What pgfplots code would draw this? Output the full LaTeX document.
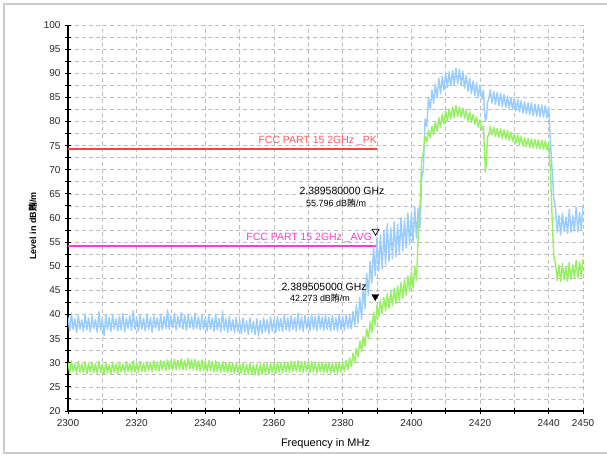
\documentclass[border=0pt]{standalone}
\usepackage{pgfplots}
\pgfplotsset{compat=1.18}
\usepackage{fontspec}
\setmainfont{Liberation Sans}
\newfontfamily\cjk{Noto Sans CJK SC}
\definecolor{trblue}{RGB}{153,204,255}
\definecolor{trgreen}{RGB}{150,240,100}
\definecolor{pkred}{RGB}{255,64,64}
\definecolor{pktext}{RGB}{255,90,90}
\definecolor{avgmag}{RGB}{255,60,210}
\definecolor{gridgray}{RGB}{190,190,190}
\begin{document}
\begin{tikzpicture}
\useasboundingbox (-68bp,-46bp) rectangle (539bp,411bp);
\begin{axis}[
  at={(0,0)}, anchor=south west,
  scale only axis, width=515bp, height=386bp,
  xmin=2300, xmax=2450, ymin=20, ymax=100,
  axis x line*=bottom, axis y line*=left,
  axis line style={-, black, line width=1.1bp},
  xtick={2300,2310,...,2450},
  xticklabels={2300,,2320,,2340,,2360,,2380,,2400,,2420,,2440,2450},
  ytick={20,25,...,100},
  minor y tick num=1,
  tick align=center,
  major tick length=6bp, minor tick length=6bp,
  tick style={black, line width=1bp},
  grid=both,
  major grid style={gridgray, dash pattern=on 4bp off 3bp, line width=0.7bp},
  minor grid style={gridgray, dash pattern=on 4bp off 3bp, line width=0.7bp},
  /pgf/number format/assume math mode=true,
  /pgf/number format/1000 sep={},
  ticklabel style={font=\fontsize{10}{12}\selectfont, text=black!85},
  xticklabel style={yshift=-2bp},
  yticklabel style={xshift=-1bp},
  xlabel={Frequency in MHz},
  xlabel style={font=\fontsize{11}{13}\selectfont, yshift=-5bp},
  ylabel={\bfseries Level in dB{\cjk 賄}/m},
  ylabel style={font=\fontsize{9}{10}\selectfont, yshift=0bp, xshift=-8bp},
  clip=true,
]
% limit lines
\addplot[pkred, line width=2bp] coordinates {(2300,74.3) (2390,74.3)};
\addplot[avgmag, line width=2bp] coordinates {(2300,54.2) (2390,54.2)};
% blue trace (peak)
\addplot[trblue, line width=1.4bp, line join=round] coordinates {
(2300,39.4)(2300.5,36.6)(2301,40.3)(2301.5,36.9)(2302,39.1)(2302.5,36.2)(2303,39.8)(2303.5,37.0)(2304,38.9)(2304.5,36.5)
(2305,40.1)(2305.5,36.8)(2306,39.3)(2306.5,36.4)(2307,39.7)(2307.5,37.1)(2308,39.0)(2308.5,36.3)(2309,40.6)(2309.5,36.7)
(2310,39.2)(2310.5,35.6)(2311,39.9)(2311.5,36.9)(2312,39.4)(2312.5,36.5)(2313,40.0)(2313.5,37.0)(2314,39.1)(2314.5,36.6)
(2315,39.6)(2315.5,36.8)(2316,40.2)(2316.5,36.4)(2317,39.3)(2317.5,37.1)(2318,39.8)(2318.5,36.7)(2319,40.8)(2319.5,36.9)
(2320,39.5)(2320.5,36.5)(2321,39.9)(2321.5,37.0)(2322,39.2)(2322.5,36.6)(2323,40.1)(2323.5,36.9)(2324,39.4)(2324.5,36.3)
(2325,39.7)(2325.5,37.2)(2326,39.3)(2326.5,36.7)(2327,40.0)(2327.5,36.8)(2328,39.6)(2328.5,37.1)(2329,40.9)(2329.5,36.9)
(2330,39.8)(2330.5,37.2)(2331,40.2)(2331.5,36.8)(2332,39.7)(2332.5,37.3)(2333,40.4)(2333.5,37.0)(2334,39.9)(2334.5,36.7)
(2335,40.1)(2335.5,37.2)(2336,39.6)(2336.5,36.9)(2337,40.3)(2337.5,37.1)(2338,39.5)(2338.5,36.8)(2339,40.0)(2339.5,37.0)
(2340,39.4)(2340.5,36.6)(2341,39.9)(2341.5,36.9)(2342,39.3)(2342.5,36.5)(2343,40.1)(2343.5,36.8)(2344,39.2)(2344.5,36.4)
(2345,40.7)(2345.5,36.7)(2346,39.1)(2346.5,36.3)(2347,39.6)(2347.5,36.6)(2348,38.9)(2348.5,36.2)(2349,39.4)(2349.5,36.5)
(2350,38.8)(2350.5,36.0)(2351,39.3)(2351.5,36.4)(2352,38.7)(2352.5,35.9)(2353,39.2)(2353.5,36.3)(2354,38.6)(2354.5,35.8)
(2355,39.1)(2355.5,35.5)(2356,38.8)(2356.5,36.1)(2357,39.3)(2357.5,36.4)(2358,38.9)(2358.5,36.0)(2359,39.5)(2359.5,36.5)
(2360,39.0)(2360.5,36.3)(2361,39.6)(2361.5,36.7)(2362,39.2)(2362.5,36.4)(2363,40.0)(2363.5,36.8)(2364,39.3)(2364.5,36.5)
(2365,39.8)(2365.5,36.9)(2366,39.4)(2366.5,36.6)(2367,40.3)(2367.5,36.8)(2368,39.5)(2368.5,36.5)(2369,39.9)(2369.5,37.0)
(2370,39.4)(2370.5,36.7)(2371,40.1)(2371.5,36.9)(2372,39.6)(2372.5,36.6)(2373,40.2)(2373.5,37.0)(2374,39.5)(2374.5,36.7)
(2375,40.0)(2375.5,36.9)(2376,39.4)(2376.5,36.6)(2377,39.9)(2377.5,36.8)(2378,39.3)(2378.5,36.5)(2379,40.1)(2379.5,36.9)
(2380,39.6)(2380.5,36.7)(2381,40.0)(2381.5,37.1)(2382,39.8)(2382.5,37.0)(2383,40.6)(2383.5,37.6)(2384,42.0)(2384.5,38.2)
(2385,43.5)(2385.5,39.0)(2386,46.0)(2386.5,41.2)(2387,48.5)(2387.5,44.0)(2388,51.0)(2388.5,46.5)(2389,54.0)(2389.5,48.0)
(2390,56.0)(2390.5,49.0)(2391,56.5)(2391.5,49.5)(2392,57.5)(2392.5,50.3)(2393,58.8)(2393.5,51.0)(2394,58.0)(2394.5,51.6)
(2395,59.2)(2395.5,52.0)(2396,58.7)(2396.5,52.6)(2397,60.1)(2397.5,53.2)(2398,59.6)(2398.5,53.8)(2399,61.0)(2399.5,54.5)
(2400,60.8)(2400.5,55.2)(2401,62.3)(2401.5,55.8)(2402,62.0)(2402.5,58.0)(2403,68.0)(2403.5,70.0)(2404,80.5)(2404.5,79.0)
(2405,85.0)(2405.5,82.5)(2406,86.5)(2406.5,83.8)(2407,87.8)(2407.5,84.9)(2408,89.0)(2408.5,85.8)(2409,89.4)(2409.5,86.5)
(2410,90.1)(2410.5,87.0)(2411,90.3)(2411.5,87.4)(2412,90.6)(2412.5,87.6)(2413,91.0)(2413.5,87.8)(2414,90.8)(2414.5,87.5)
(2415,90.4)(2415.5,86.9)(2416,89.6)(2416.5,86.3)(2417,89.0)(2417.5,85.8)(2418,88.4)(2418.5,85.4)(2419,88.0)(2419.5,85.0)
(2420,87.6)(2420.5,84.6)(2421,86.5)(2421.3,82.0)(2421.6,80.0)(2421.9,81.0)(2422.2,84.0)(2422.5,84.5)(2423,86.6)(2423.5,83.8)
(2424,86.2)(2424.5,83.6)(2425,86.0)(2425.5,83.3)(2426,85.8)(2426.5,83.1)(2427,85.6)(2427.5,82.9)(2428,85.3)(2428.5,82.7)
(2429,85.0)(2429.5,82.5)(2430,84.9)(2430.5,82.2)(2431,84.6)(2431.5,82.0)(2432,84.3)(2432.5,81.8)(2433,84.1)(2433.5,81.6)
(2434,83.9)(2434.5,81.4)(2435,83.8)(2435.5,81.2)(2436,83.6)(2436.5,81.1)(2437,83.5)(2437.5,81.0)(2438,83.4)(2438.5,80.9)
(2439,83.3)(2439.5,80.8)(2440,83.0)(2440.5,76.0)(2441,70.0)(2441.5,64.0)(2442,62.0)(2442.5,57.0)(2443,60.5)(2443.5,56.5)
(2444,61.0)(2444.5,57.2)(2445,60.2)(2445.5,56.8)(2446,61.8)(2446.5,57.0)(2447,60.6)(2447.5,57.3)(2448,62.2)(2448.5,57.1)
(2449,61.2)(2449.5,57.5)(2450,62.5)
};
% green trace (average)
\addplot[trgreen, line width=1.4bp, line join=round] coordinates {
(2300,30.0)(2300.5,27.9)(2301,30.4)(2301.5,28.2)(2302,29.8)(2302.5,27.8)(2303,30.3)(2303.5,28.1)(2304,29.7)(2304.5,28.0)
(2305,30.2)(2305.5,27.7)(2306,29.9)(2306.5,28.1)(2307,30.1)(2307.5,27.9)(2308,29.8)(2308.5,27.8)(2309,30.3)(2309.5,28.0)
(2310,29.7)(2310.5,27.6)(2311,30.0)(2311.5,27.9)(2312,29.6)(2312.5,27.7)(2313,30.1)(2313.5,28.0)(2314,29.8)(2314.5,27.8)
(2315,30.0)(2315.5,28.1)(2316,29.7)(2316.5,27.9)(2317,30.2)(2317.5,28.2)(2318,29.9)(2318.5,28.0)(2319,30.4)(2319.5,28.1)
(2320,30.0)(2320.5,28.0)(2321,30.3)(2321.5,28.2)(2322,29.9)(2322.5,28.1)(2323,30.2)(2323.5,28.3)(2324,30.1)(2324.5,28.2)
(2325,30.4)(2325.5,28.4)(2326,30.2)(2326.5,28.3)(2327,30.5)(2327.5,28.5)(2328,30.3)(2328.5,28.4)(2329,30.6)(2329.5,28.6)
(2330,30.4)(2330.5,28.5)(2331,30.7)(2331.5,28.6)(2332,30.5)(2332.5,28.7)(2333,30.8)(2333.5,28.6)(2334,30.5)(2334.5,28.5)
(2335,30.9)(2335.5,28.7)(2336,30.6)(2336.5,28.5)(2337,30.7)(2337.5,28.4)(2338,30.4)(2338.5,28.3)(2339,30.6)(2339.5,28.4)
(2340,30.3)(2340.5,28.2)(2341,30.5)(2341.5,28.3)(2342,30.2)(2342.5,28.1)(2343,30.4)(2343.5,28.2)(2344,30.1)(2344.5,28.0)
(2345,30.3)(2345.5,28.1)(2346,30.0)(2346.5,27.9)(2347,30.2)(2347.5,28.0)(2348,29.9)(2348.5,27.8)(2349,30.1)(2349.5,27.9)
(2350,29.8)(2350.5,27.7)(2351,30.0)(2351.5,27.8)(2352,29.7)(2352.5,27.6)(2353,29.9)(2353.5,27.7)(2354,29.6)(2354.5,27.5)
(2355,29.8)(2355.5,27.4)(2356,29.7)(2356.5,27.6)(2357,29.9)(2357.5,27.8)(2358,29.8)(2358.5,27.7)(2359,30.0)(2359.5,27.9)
(2360,29.9)(2360.5,27.8)(2361,30.1)(2361.5,28.0)(2362,30.0)(2362.5,27.9)(2363,30.2)(2363.5,28.1)(2364,30.1)(2364.5,28.0)
(2365,30.3)(2365.5,28.2)(2366,30.2)(2366.5,28.1)(2367,30.4)(2367.5,28.2)(2368,30.2)(2368.5,28.0)(2369,30.3)(2369.5,28.2)
(2370,30.1)(2370.5,28.0)(2371,30.3)(2371.5,28.1)(2372,30.0)(2372.5,27.9)(2373,30.2)(2373.5,28.1)(2374,30.0)(2374.5,27.9)
(2375,30.2)(2375.5,28.0)(2376,29.9)(2376.5,27.8)(2377,30.1)(2377.5,28.0)(2378,29.9)(2378.5,27.9)(2379,30.2)(2379.5,28.1)
(2380,30.0)(2380.5,28.2)(2381,30.5)(2381.5,28.6)(2382,31.0)(2382.5,29.2)(2383,32.0)(2383.5,30.0)(2384,33.0)(2384.5,31.2)
(2385,34.5)(2385.5,32.3)(2386,35.5)(2386.5,33.5)(2387,37.0)(2387.5,35.0)(2388,38.5)(2388.5,36.2)(2389,40.5)(2389.5,37.8)
(2390,42.0)(2390.5,39.5)(2391,43.0)(2391.5,40.2)(2392,43.5)(2392.5,40.8)(2393,44.3)(2393.5,41.3)(2394,44.8)(2394.5,41.8)
(2395,45.5)(2395.5,42.3)(2396,45.9)(2396.5,42.8)(2397,46.6)(2397.5,43.4)(2398,47.2)(2398.5,44.0)(2399,48.0)(2399.5,44.8)
(2400,48.8)(2400.5,45.5)(2401,50.0)(2401.5,47.0)(2402,56.0)(2402.5,62.0)(2403,72.0)(2403.5,73.5)(2404,77.0)(2404.5,75.8)
(2405,78.2)(2405.5,76.6)(2406,79.0)(2406.5,77.3)(2407,80.0)(2407.5,78.0)(2408,80.8)(2408.5,78.8)(2409,81.5)(2409.5,79.5)
(2410,82.2)(2410.5,80.0)(2411,82.6)(2411.5,80.5)(2412,83.0)(2412.5,80.8)(2413,83.3)(2413.5,81.0)(2414,83.0)(2414.5,80.9)
(2415,82.8)(2415.5,80.6)(2416,82.4)(2416.5,80.2)(2417,82.0)(2417.5,79.8)(2418,81.5)(2418.5,79.4)(2419,81.0)(2419.5,78.8)
(2420,80.4)(2420.5,78.2)(2421,79.0)(2421.3,74.0)(2421.6,69.5)(2421.9,72.0)(2422.2,77.0)(2422.5,77.0)(2423,79.0)(2423.5,77.2)
(2424,78.8)(2424.5,76.9)(2425,78.6)(2425.5,76.7)(2426,78.5)(2426.5,76.5)(2427,78.3)(2427.5,76.3)(2428,78.2)(2428.5,76.1)
(2429,77.8)(2429.5,75.8)(2430,77.5)(2430.5,75.5)(2431,77.2)(2431.5,75.2)(2432,76.9)(2432.5,75.0)(2433,76.7)(2433.5,74.8)
(2434,76.5)(2434.5,74.6)(2435,76.4)(2435.5,74.5)(2436,76.3)(2436.5,74.4)(2437,76.2)(2437.5,74.3)(2438,76.1)(2438.5,74.2)
(2439,76.0)(2439.5,74.1)(2440,75.8)(2440.5,70.0)(2441,60.0)(2441.5,52.0)(2442,50.5)(2442.5,47.0)(2443,50.2)(2443.5,46.8)
(2444,50.6)(2444.5,47.2)(2445,49.8)(2445.5,46.9)(2446,50.8)(2446.5,47.3)(2447,50.3)(2447.5,47.5)(2448,51.2)(2448.5,47.6)
(2449,50.9)(2449.5,47.8)(2450,51.5)
};
% markers
\addplot[only marks, mark=triangle, mark size=4bp, black, mark options={rotate=180, yshift=-7bp, fill=white, line width=0.7bp}] coordinates {(2389.58,55.796)};
\addplot[only marks, mark=triangle*, mark size=4bp, black, mark options={rotate=180, yshift=-7bp, fill=black}] coordinates {(2389.505,42.273)};
% texts
\node[anchor=south east, inner sep=0pt, text=pktext, font=\fontsize{10.5}{12}\selectfont] at (axis cs:2390,74.9) {FCC PART 15 2GHz \_PK};
\node[anchor=south east, inner sep=0pt, text=avgmag, font=\fontsize{10.5}{12}\selectfont] at (axis cs:2388.6,54.8) {FCC PART 15 2GHz \_AVG};
\node[inner sep=0pt, font=\fontsize{10.5}{12}\selectfont] at (axis cs:2379.8,65.6) {2.389580000 GHz};
\node[inner sep=0pt, font=\fontsize{9}{10}\selectfont] at (axis cs:2378.1,63.1) {55.796 dB{\cjk 賄}/m};
\node[inner sep=0pt, font=\fontsize{10.5}{12}\selectfont] at (axis cs:2374.6,45.7) {2.389505000 GHz};
\node[inner sep=0pt, font=\fontsize{9}{10}\selectfont] at (axis cs:2373.4,43.4) {42.273 dB{\cjk 賄}/m};
\end{axis}
\draw[black!20, line width=2bp] (560bp,407bp) -- (-64bp,407bp) -- (-64bp,-42bp) -- (560bp,-42bp);
\end{tikzpicture}
\end{document}
